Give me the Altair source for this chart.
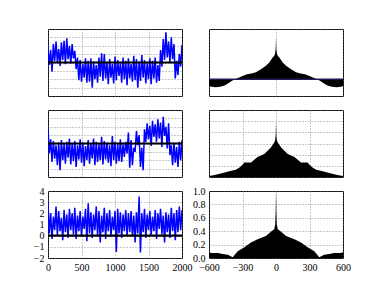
import altair as alt
import pandas as pd

T = list(range(0, 2001, 20))

P1 = [1.8, -0.3, 1.5, -1.1, 2.2, 0.2, 2.5, 0.0, 1.6, -0.4, 2.4, 0.3, 2.6, -0.2, 2.9, 0.4, 2.0, -0.1, 2.2, 0.5, 1.4,
      -0.8, 0.6, -2.1, 0.3, -2.3, -0.2, -1.8, 0.5, -2.4, 0.2, -2.3, 0.5, -3.0, 0.1, -2.0, -0.3, -2.4, 0.6, -1.7, 1.1,
      -2.2, 1.0, -1.9, 0.0, -2.6, 0.4, -1.8, -0.2, -2.5, 0.7, -2.1, 0.3, -1.6, -0.1, -2.4, 0.6, -2.0, 0.2, -2.7, 0.5,
      -1.9, -0.2, -2.3, 0.8, -2.1, 0.4, -3.0, 0.1, -2.2, 0.9, -1.8, 0.3, -2.5, -0.1, -2.0, 0.5, -2.6, 0.2, -1.9, 0.6,
      -2.4, -0.3, -2.2,
      1.5, -0.5, 2.8, 0.3, 3.6, 0.6, 2.5, 0.0, 3.0, 0.4, 2.2, -1.9, 0.2, -1.5, 1.0, -0.5, 2.1]

P2 = [1.8, -1.2, 0.5, -2.2, 0.3, -1.8, -0.2, -2.6, 0.1, -3.2, 0.4, -2.0, -0.1, -2.4, 0.2, -1.7, 0.6, -2.5, 0.0, -2.1,
      0.3, -2.8, -0.2, -1.9, 0.5, -2.3, 0.1, -2.7, -0.3, -2.0, 0.4, -2.4, 0.0, -1.8, 0.6, -2.6, 0.2, -2.2, -0.1, -2.0,
      0.8, -2.5, 0.3, -1.9, 0.1, -2.3, -0.2, -2.7, 0.9, -2.0, 0.2, -2.4, -0.1, -2.1, 0.5, -2.2,
      -0.1, -1.6, 0.2, -1.2, 1.3, -2.9, 0.4, -2.6, -0.5, -1.0, 1.5, -0.2, 1.0, -2.8, -0.5, -3.2, 1.7,
      0.2, 2.4, 0.5, 2.1, -0.3, 2.7, 0.8, 2.3, 0.2, 2.9, 0.6, 2.5, -0.4, 3.2, 0.9, 2.0, -0.6, 2.4,
      -1.4, -0.2, -2.6, 0.1, -2.3, -0.4, -2.8, 0.2, -2.0, 0.4]

P3 = [3.0, 0.2, 2.0, -0.3, 1.7, 0.5, 2.6, 0.0, 2.2, 0.4, 1.6, -0.4, 2.3, 0.3, 1.9, -0.2, 2.4, 0.5, 2.0, 0.1,
      2.5, -0.3, 1.8, 0.4, 2.2, -0.1, 1.7, 0.6, 2.4, -0.5, 2.9, 0.2, 2.1, -0.2, 1.9, 0.5, 2.6, 0.0, 2.2, -0.6,
      1.8, 0.3, 2.5, -0.3, 2.0, 0.4, 2.3, -0.1, 1.7, 0.5, 2.2, -1.45, 2.4, 0.2, 2.1, -0.2, 1.9, 0.4, 2.3, 0.0,
      2.0, 0.3, 2.2, -0.1, 1.8, -0.6, 2.1, 0.2, 3.5, -1.5, 2.0, 0.3, 2.4, -0.2, 1.9, 0.5, 2.2, 0.0, 1.7, 0.4,
      2.3, -0.3, 2.0, 0.6, 2.4, 0.1, 1.8, -0.6, 2.1, 0.3, 1.9, -0.2, 2.5, 0.4, 2.0, -0.4, 2.3, 0.3, 2.6, 0.5, 2.3]

R1_LAGS = [0, 3, 8, 15, 30, 60, 90, 135, 180, 220, 260, 300, 340, 370, 400, 430, 460, 500, 540, 580, 600]
R1_VALS = [1.0, 0.72, 0.62, 0.56, 0.52, 0.40, 0.32, 0.24, 0.165, 0.14, 0.12, 0.08, 0.03, 0.0, -0.05, -0.10, -0.15,
           -0.18, -0.19, -0.18, -0.16]
R2_LAGS = [0, 3, 8, 16, 46, 105, 165, 200, 224, 283, 300, 327, 360, 400, 460, 520, 560, 600]
R2_VALS = [1.0, 0.75, 0.66, 0.62, 0.53, 0.41, 0.36, 0.30, 0.26, 0.26, 0.22, 0.17, 0.13, 0.11, 0.08, 0.05, 0.03, 0.02]
R3_LAGS = [0, 3, 7, 16, 46, 90, 165, 224, 283, 343, 387, 410, 430, 480, 520, 580, 600]
R3_VALS = [1.0, 0.70, 0.50, 0.43, 0.39, 0.33, 0.28, 0.23, 0.16, 0.10, 0.01, 0.03, 0.05, 0.06, 0.075, 0.075, 0.085]

W, H = 134, 67
FONT = "Liberation Serif"


def grid_axis(vals, show, fmt):
    return alt.Axis(values=vals, grid=True, ticks=False, domain=False, title=None, labels=show,
                    labelOverlap=False, labelFlush=False, format=fmt)


def ts_panel(vals, ydom, ystep, bottom):
    # series trace plus the y=0 reference line, drawn as two groups of one line mark
    df = pd.DataFrame({"t": T + [0, 2000], "v": vals + [0, 0],
                       "s": ["a"] * len(T) + ["b", "b"]})
    yv = [ydom[0] + i * ystep for i in range(int(round((ydom[1] - ydom[0]) / ystep)) + 1)]
    return alt.Chart(df).mark_line(clip=True).encode(
        x=alt.X("t:Q", scale=alt.Scale(domain=[0, 2000], nice=False),
                axis=grid_axis([0, 500, 1000, 1500, 2000], bottom, "d")),
        y=alt.Y("v:Q", scale=alt.Scale(domain=ydom, nice=False, zero=False),
                axis=grid_axis(yv, bottom, "d")),
        color=alt.Color("s:N", scale=alt.Scale(domain=["a", "b"], range=["#0000ff", "#000000"]), legend=None),
        strokeWidth=alt.StrokeWidth("s:N", scale=alt.Scale(domain=["a", "b"], range=[1.5, 2.2]), legend=None),
    ).properties(width=W, height=H)


def acf_panel(lags, vals, ydom, bottom, baseline=False):
    full_l = [-l for l in reversed(lags[1:])] + lags
    full_v = list(reversed(vals[1:])) + vals
    df = pd.DataFrame({"lag": full_l, "r": full_v, "z": [0] * len(full_l)})
    yv = [round(ydom[0] + i * 0.2, 1) for i in range(int(round((ydom[1] - ydom[0]) / 0.2)) + 1)]
    base = alt.Chart(df)
    area = base.mark_area(color="black", opacity=1, clip=True).encode(
        x=alt.X("lag:Q", scale=alt.Scale(domain=[-600, 600], nice=False),
                axis=grid_axis([-600, -300, 0, 300, 600], bottom, "d")),
        y=alt.Y("r:Q", scale=alt.Scale(domain=ydom, nice=False, zero=False),
                axis=grid_axis(yv, bottom, ".1f")),
        y2=alt.Y2("z:Q"),
    )
    layers = [area]
    if baseline:
        layers.append(base.mark_rule(color="#1c1c50", strokeWidth=1.6).encode(
            x=alt.X("min(lag):Q"), x2=alt.X2("max(lag):Q"), y=alt.Y("min(z):Q")))
    return alt.layer(*layers).properties(width=W, height=H)


panels = [
    ts_panel(P1, [-4, 4], 1, False), acf_panel(R1_LAGS, R1_VALS, [-0.4, 1.2], False, True),
    ts_panel(P2, [-4, 4], 1, False), acf_panel(R2_LAGS, R2_VALS, [0, 1.2], False),
    ts_panel(P3, [-2, 4], 1, True), acf_panel(R3_LAGS, R3_VALS, [0, 1.0], True),
]

chart = alt.concat(*panels, columns=2, spacing={"row": 14, "column": 27}, bounds="flush").properties(
    padding={"left": 24, "top": 20, "right": 5, "bottom": 5}
).configure_view(stroke="black", strokeWidth=1).configure_axis(
    labelFont=FONT, labelFontSize=10, labelColor="black", labelPadding=4,
    gridColor="#777777", gridDash=[1, 2], gridWidth=0.8, gridOpacity=1,
)

chart.save("out.html", embed_options={"renderer": "svg", "actions": False})
